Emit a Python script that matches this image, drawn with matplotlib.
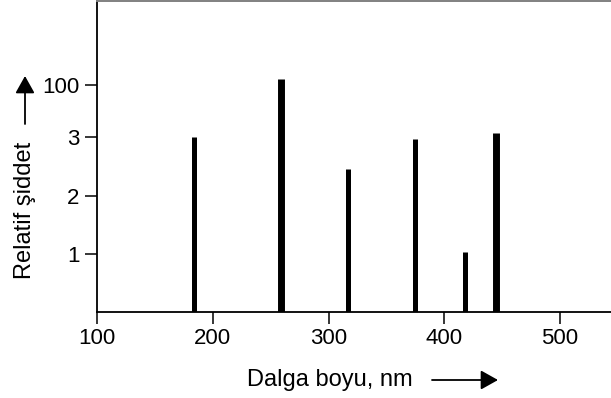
import matplotlib
matplotlib.use("Agg")
import matplotlib.pyplot as plt

plt.rcParams['font.family'] = ['Liberation Sans', 'DejaVu Sans']

wavelengths = [184, 259, 317, 375, 418, 445]
intensities = [3.0, 4.0, 2.45, 2.98, 1.04, 3.08]
ytick_pos = [1, 2, 3, 3.9]
ytick_labels = ['1', '2', '3', '100']
xticks = [100, 200, 300, 400, 500]

fig = plt.figure(figsize=(6.11, 3.98), dpi=100)
ax = fig.add_axes([97/611, 86/398, 1 - 97/611, 311.2/398])

lws = [3.6, 5.0, 3.6, 3.6, 3.6, 5.0]
for x, h, lw in zip(wavelengths, intensities, lws):
    ax.vlines(x, 0, h, colors='black', linewidth=lw, capstyle='butt')

ax.set_xlim(100, 544)
ax.set_ylim(0, 5.35)
ax.set_xticks(xticks)
ax.set_xticklabels([str(v) for v in xticks], fontsize=16)
ax.set_yticks(ytick_pos)
ax.set_yticklabels(ytick_labels, fontsize=16)
ax.tick_params(axis='both', direction='out', length=8.5, width=1.1, color='black', pad=3)
ax.tick_params(axis='y', pad=4)

for s in ['left', 'bottom']:
    ax.spines[s].set_linewidth(1.3)
    ax.spines[s].set_color('black')
ax.spines['right'].set_visible(False)
ax.spines['top'].set_color('#808080')
ax.spines['top'].set_linewidth(1.4)

fig.text(25/611, 1 - 210/398, 'Relatif şiddet', rotation=90, fontsize=17,
         ha='center', va='center')
fig.text(330/611, 1 - 380/398, 'Dalga boyu, nm', fontsize=17, ha='center', va='center')

fig.add_artist(matplotlib.patches.FancyArrowPatch(
    (25/611, 1 - 124/398), (25/611, 1 - 76/398), transform=fig.transFigure,
    arrowstyle='-|>,head_length=0.75,head_width=0.42', mutation_scale=14,
    color='black', linewidth=1.3, shrinkA=0, shrinkB=0))
fig.add_artist(matplotlib.patches.FancyArrowPatch(
    (432/611, 1 - 380/398), (498/611, 1 - 380/398), transform=fig.transFigure,
    arrowstyle='-|>,head_length=0.75,head_width=0.42', mutation_scale=14,
    color='black', linewidth=1.3, shrinkA=0, shrinkB=0))

fig.savefig('out.png', dpi=100)
